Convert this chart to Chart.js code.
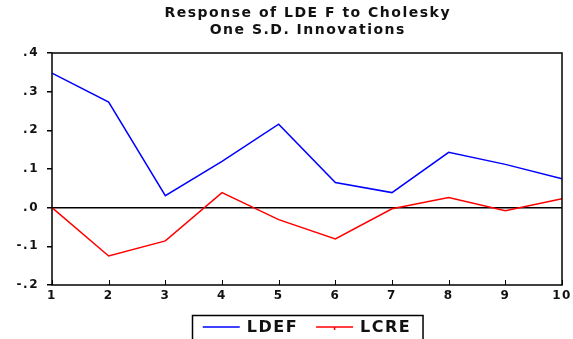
<!DOCTYPE html>
<html>
<head>
<meta charset="utf-8">
<script src="https://cdn.jsdelivr.net/npm/chart.js@4/dist/chart.umd.min.js"></script>
<style>
  html, body { margin: 0; padding: 0; background: #fff; }
  #wrap { width: 573px; height: 339px; position: relative; }
</style>
</head>
<body>
<div id="wrap"><canvas id="irf"></canvas></div>
<script>
const periods = ["1", "2", "3", "4", "5", "6", "7", "8", "9", "10"];
const ldef = [0.348, 0.273, 0.031, 0.12, 0.216, 0.065, 0.039, 0.143, 0.112, 0.075];
const lcre = [0.0, -0.125, -0.086, 0.039, -0.031, -0.081, -0.003, 0.026, -0.008, 0.023];
const title_lines = ["Response of LDE F to Cholesky", "One S.D. Innovations"];

const fnt = "'DejaVu Sans', Verdana, sans-serif";
const espaciado = "1.5px";

// texto ancho: se aplica antes de medir y antes de dibujar
const plugin_espaciado = {
  id: "espaciado",
  beforeLayout: (chart) => { chart.ctx.letterSpacing = espaciado; },
  beforeDraw: (chart) => { chart.ctx.letterSpacing = espaciado; },
};

// título, marco del gráfico, ticks del eje x hacia dentro y leyenda con caja
const plugin_marco = {
  id: "marco",
  afterDraw: (chart) => {
    const ctx = chart.ctx;
    const a = chart.chartArea;
    const x = chart.scales.x;
    const cx = (a.left + a.right) / 2;
    ctx.save();
    ctx.strokeStyle = "#000";
    ctx.lineWidth = 1.5;
    ctx.strokeRect(a.left, a.top, a.right - a.left, a.bottom - a.top);
    ctx.lineWidth = 1;
    x.ticks.forEach((t, i) => {
      const px = Math.round(x.getPixelForTick(i)) + 0.5;
      ctx.beginPath();
      ctx.moveTo(px, a.bottom);
      ctx.lineTo(px, a.bottom - 5);
      ctx.stroke();
    });

    // título (centrado sobre el área del gráfico)
    ctx.letterSpacing = espaciado;
    ctx.font = "bold 14px " + fnt;
    ctx.fillStyle = "#111";
    ctx.textBaseline = "middle";
    ctx.textAlign = "left";
    title_lines.forEach((linea, i) => {
      const w = ctx.measureText(linea).width - 1.5;
      ctx.fillText(linea, cx - w / 2, 13.5 + i * 17);
    });

    // leyenda
    ctx.font = "bold 16px " + fnt;
    const largo = 37, sep = 7, hueco = 18;
    const items = chart.data.datasets.map((d) => ({
      texto: d.label,
      color: d.borderColor,
      w: largo + sep + ctx.measureText(d.label).width,
    }));
    const total = items.reduce((s, it) => s + it.w, 0) + hueco * (items.length - 1);
    const cy = 327;
    let px = cx - total / 2;
    ctx.strokeStyle = "#000";
    ctx.lineWidth = 1.5;
    ctx.strokeRect(Math.round(px - 11) + 0.5, 315.5, total + 22, 30);
    items.forEach((it, i) => {
      ctx.strokeStyle = it.color;
      ctx.lineWidth = 1.5;
      ctx.beginPath();
      ctx.moveTo(px, cy);
      ctx.lineTo(px + largo, cy);
      if (i === 1) {
        ctx.moveTo(px + largo / 2, cy);
        ctx.lineTo(px + largo / 2, cy + 3);
      }
      ctx.stroke();
      ctx.fillStyle = "#111";
      ctx.fillText(it.texto, px + largo + sep, cy + 1);
      px += it.w + hueco;
    });
    ctx.restore();
  },
};

new Chart(document.getElementById("irf").getContext("2d"), {
  type: "line",
  data: {
    labels: periods,
    datasets: [
      {
        label: "LDEF",
        data: ldef,
        borderColor: "#0000ff",
        backgroundColor: "#0000ff",
        borderWidth: 1.5,
        pointRadius: 0,
        tension: 0,
      },
      {
        label: "LCRE",
        data: lcre,
        borderColor: "#ff0000",
        backgroundColor: "#ff0000",
        borderWidth: 1.5,
        pointRadius: 0,
        tension: 0,
      },
    ],
  },
  options: {
    responsive: true,
    maintainAspectRatio: false,
    animation: false,
    layout: { padding: { left: 0, right: 11, top: 53, bottom: 24 } },
    scales: {
      x: {
        offset: false,
        grid: { display: false, drawTicks: false },
        border: { display: false },
        ticks: {
          color: "#111",
          font: { family: fnt, size: 12, weight: "bold" },
          padding: 4,
          maxRotation: 0,
          autoSkip: false,
        },
        afterFit: (s) => {
          s.height = 30;
          s.paddingLeft = 0;
          s.paddingRight = 0;
        },
      },
      y: {
        min: -0.2,
        max: 0.4,
        grid: {
          drawOnChartArea: true,
          color: (c) => (c.tick && Math.abs(c.tick.value) < 1e-9 ? "#000" : "rgba(0,0,0,0)"),
          lineWidth: 1.5,
          tickColor: "#000",
          tickLength: 5,
        },
        border: { display: false },
        ticks: {
          stepSize: 0.1,
          color: "#111",
          padding: 8,
          font: { family: fnt, size: 12, weight: "bold" },
          callback: (v) => Number(v).toFixed(1).replace("0.", "."),
        },
        afterFit: (s) => {
          s.width = 52;
          s.paddingTop = 0;
          s.paddingBottom = 0;
        },
      },
    },
    plugins: {
      title: { display: false },
      legend: { display: false },
      tooltip: { enabled: false },
    },
  },
  plugins: [plugin_espaciado, plugin_marco],
});
</script>
</body>
</html>
